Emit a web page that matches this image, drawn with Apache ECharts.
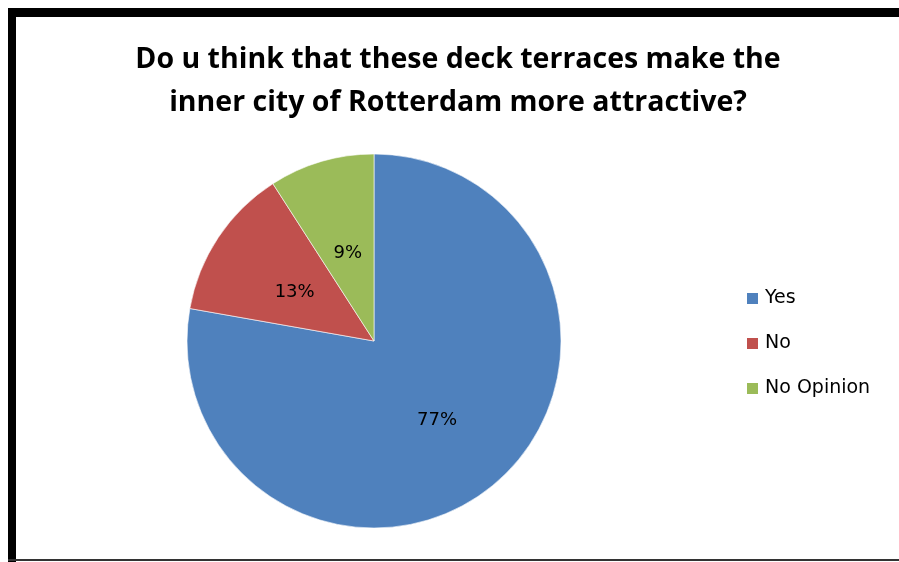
<!DOCTYPE html>
<html>
<head>
<meta charset="utf-8">
<script src="https://cdn.jsdelivr.net/npm/echarts@6/dist/echarts.min.js"></script>
<style>
html,body{margin:0;padding:0;background:#fff;}
#chart{width:899px;height:562px;}
</style>
</head>
<body>
<div id="chart"></div>
<script>
var titleText = "Do u think that these deck terraces make the\ninner city of Rotterdam more attractive?";
var categories = ["Yes", "No", "No Opinion"];
var values = [77, 13, 9];
var colors = ["#4F81BD", "#C0504D", "#9BBB59"];

var chart = echarts.init(document.getElementById('chart'), null, {renderer: 'canvas'});
var option = {
  backgroundColor: '#ffffff',
  animation: false,
  color: colors,
  title: {
    text: titleText,
    left: 458,
    textAlign: 'center',
    top: 38,
    padding: 0,
    textStyle: {
      fontFamily: 'Open Sans',
      fontWeight: 'bold',
      fontSize: 28.5,
      lineHeight: 43,
      color: '#000'
    }
  },
  legend: {
    orient: 'vertical',
    left: 745,
    top: 289,
    padding: 0,
    itemWidth: 13,
    itemHeight: 13,
    itemGap: 26,
    icon: 'rect',
    textStyle: {
      fontFamily: 'DejaVu Sans',
      fontSize: 19,
      color: '#000',
      padding: [0, 0, 0, 1]
    },
    data: categories
  },
  graphic: [
    {type: 'rect', shape: {x: 8, y: 8, width: 891, height: 9}, style: {fill: '#000'}},
    {type: 'rect', shape: {x: 8, y: 8, width: 8, height: 554}, style: {fill: '#000'}},
    {type: 'rect', shape: {x: 8, y: 559, width: 891, height: 2}, style: {fill: '#333'}}
  ],
  series: [{
    type: 'pie',
    center: [374, 341],
    radius: [0, 187],
    startAngle: 90,
    clockwise: true,
    data: categories.map(function (c, i) { return {name: c, value: values[i]}; }),
    itemStyle: {borderColor: '#ffffff', borderWidth: 0.6},
    label: {
      position: 'inner',
      formatter: '{c}%',
      fontFamily: 'DejaVu Sans',
      fontSize: 18,
      color: '#000',
      offset: [1, 5]
    },
    labelLine: {show: false},
    emphasis: {disabled: true}
  }]
};
chart.setOption(option);
</script>
</body>
</html>
